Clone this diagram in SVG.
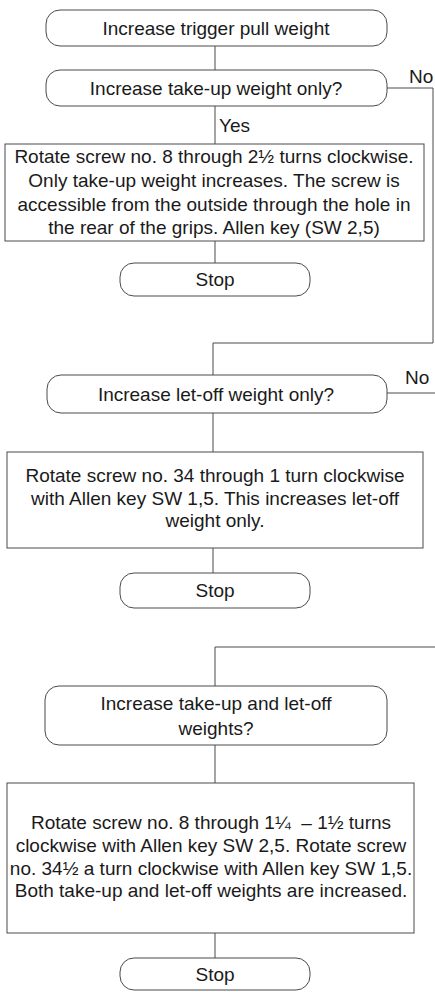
<svg xmlns="http://www.w3.org/2000/svg" width="435" height="992" viewBox="0 0 435 992">
<style>
  .n { fill: #ffffff; stroke: #4a4a4a; stroke-width: 1; }
  .c { fill: none; stroke: #4a4a4a; stroke-width: 1; }
  text { font-family: "Liberation Sans", Arial, sans-serif; font-size: 19px; fill: #1a1a1a; }
  .m { text-anchor: middle; }
</style>
<rect width="435" height="992" fill="#ffffff"/>
<g id="connectors">
  <path class="c" d="M215,46 V70"/>
  <path class="c" d="M387,88 H433 V343 H213 V375"/>
  <path class="c" d="M215,106 V144"/>
  <path class="c" d="M215,241 V263"/>
  <path class="c" d="M387,393 H440 V647 H215 V686"/>
  <path class="c" d="M213,413 V452"/>
  <path class="c" d="M213,548 V573"/>
  <path class="c" d="M215,745 V783"/>
  <path class="c" d="M215,933 V958"/>
</g>
<g id="start">
  <rect class="n" x="46" y="10" width="341" height="36" rx="14"/>
  <text class="m" x="216" y="34.5">Increase trigger pull weight</text>
</g>
<g id="q1">
  <rect class="n" x="46" y="70" width="341" height="36" rx="14"/>
  <text class="m" x="216" y="94.5">Increase take-up weight only?</text>
</g>
<g id="label-no1"><text x="409" y="83">No</text></g>
<g id="label-yes1"><text x="219" y="132">Yes</text></g>
<g id="a1">
  <rect class="n" x="5" y="144" width="419" height="97"/>
  <text class="m" x="214" y="163">Rotate screw no. 8 through 2½ turns clockwise.</text>
  <text class="m" x="214" y="187">Only take-up weight increases. The screw is</text>
  <text class="m" x="214" y="210.5">accessible from the outside through the hole in</text>
  <text class="m" x="214" y="234">the rear of the grips. Allen key (SW 2,5)</text>
</g>
<g id="stop1">
  <rect class="n" x="120" y="263" width="190" height="33" rx="14"/>
  <text class="m" x="215" y="286">Stop</text>
</g>
<g id="q2">
  <rect class="n" x="47" y="375" width="340" height="38" rx="14"/>
  <text class="m" x="216" y="400.5">Increase let-off weight only?</text>
</g>
<g id="label-no2"><text x="405" y="384">No</text></g>
<g id="a2">
  <rect class="n" x="7" y="452" width="416" height="96"/>
  <text class="m" x="215" y="482">Rotate screw no. 34 through 1 turn clockwise</text>
  <text class="m" x="215" y="504.5">with Allen key SW 1,5. This increases let-off</text>
  <text class="m" x="215" y="527">weight only.</text>
</g>
<g id="stop2">
  <rect class="n" x="120" y="573" width="190" height="35" rx="14"/>
  <text class="m" x="215" y="597">Stop</text>
</g>
<g id="q3">
  <rect class="n" x="45" y="686" width="342" height="59" rx="14"/>
  <text class="m" x="216" y="710">Increase take-up and let-off</text>
  <text class="m" x="216" y="735">weights?</text>
</g>
<g id="a3">
  <rect class="n" x="7" y="783" width="407" height="150"/>
  <text class="m" x="211" y="829">Rotate screw no. 8 through 1¼&#160; – 1½ turns</text>
  <text class="m" x="211" y="852">clockwise with Allen key SW 2,5. Rotate screw</text>
  <text class="m" x="211" y="874.5">no. 34½ a turn clockwise with Allen key SW 1,5.</text>
  <text class="m" x="211" y="897">Both take-up and let-off weights are increased.</text>
</g>
<g id="stop3">
  <rect class="n" x="120" y="958" width="190" height="32" rx="14"/>
  <text class="m" x="215" y="981">Stop</text>
</g>
</svg>
